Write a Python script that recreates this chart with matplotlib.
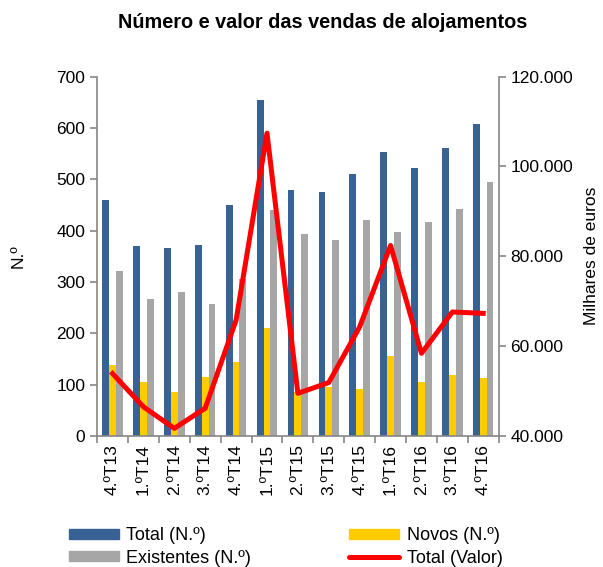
import numpy as np
import matplotlib
matplotlib.use('Agg')
import matplotlib.pyplot as plt
from matplotlib.patches import Patch
from matplotlib.lines import Line2D
from matplotlib.ticker import FuncFormatter

plt.rcParams['font.family'] = ['Liberation Sans', 'DejaVu Sans']

# === Data ===
quarters = ['4.ºT13', '1.ºT14', '2.ºT14', '3.ºT14', '4.ºT14', '1.ºT15', '2.ºT15',
            '3.ºT15', '4.ºT15', '1.ºT16', '2.ºT16', '3.ºT16', '4.ºT16']
total_n = [460, 370, 366, 372, 450, 654, 479, 476, 511, 553, 522, 561, 608]
novos_n = [138, 105, 85, 115, 144, 211, 86, 96, 92, 156, 105, 118, 113]
existentes_n = [321, 266, 280, 257, 306, 441, 393, 381, 420, 397, 417, 443, 494]
total_valor = [53900, 46500, 41700, 46200, 65800, 107400, 49500, 51900, 64300,
               82400, 58400, 67600, 67300]

blue = '#386293'
yellow = '#FFCC00'
grey = '#A6A6A6'
red = '#FF0000'
spine_col = '#868686'

fig = plt.figure(figsize=(6.03, 5.67), dpi=100)
ax = fig.add_axes([0.161, 0.231, 0.666, 0.634])
x = np.arange(len(quarters))
w = 0.22

ax.bar(x - w, total_n, w, color=blue, zorder=2)
ax.bar(x, novos_n, w, color=yellow, zorder=2)
ax.bar(x + w, existentes_n, w, color=grey, zorder=2)

ax.set_xlim(-0.5, len(quarters) - 0.5)
ax.set_ylim(0, 700)
ax.set_yticks(range(0, 701, 100))
ax.set_xticks(x)
ax.set_xticklabels(quarters, rotation=90, fontsize=12.5)
ax.set_xticks(np.arange(-0.5, len(quarters)), minor=True)
ax.tick_params(axis='x', which='major', length=0, pad=6)
ax.tick_params(axis='x', which='minor', length=5, color=spine_col, width=1.2)
ax.tick_params(axis='y', labelsize=12.5, length=5, color=spine_col, width=1.2)
ax.set_ylabel('N.º', fontsize=12.5, labelpad=22)
for s in ['top', 'right']:
    ax.spines[s].set_visible(False)
for s in ['left', 'bottom']:
    ax.spines[s].set_color(spine_col)
    ax.spines[s].set_linewidth(1.2)

ax2 = ax.twinx()
ax2.plot(x, total_valor, color=red, lw=3.6, solid_joinstyle='round', zorder=5)
ax2.set_ylim(40000, 120000)
ax2.set_yticks(range(40000, 120001, 20000))
ax2.yaxis.set_major_formatter(FuncFormatter(lambda v, p: f'{int(v):,}'.replace(',', '.')))
ax2.tick_params(axis='y', labelsize=12.5, length=5, color=spine_col, width=1.2)
ax2.set_ylabel('Milhares de euros', fontsize=12.5, labelpad=8)
for s in ['top', 'left', 'bottom']:
    ax2.spines[s].set_visible(False)
ax2.spines['right'].set_color(spine_col)
ax2.spines['right'].set_linewidth(1.2)

fig.suptitle('Número e valor das vendas de alojamentos', fontsize=14.3,
             fontweight='bold', x=0.535, y=0.977)

handles = [Patch(color=blue), Patch(color=grey), Patch(color=yellow),
           Line2D([], [], color=red, lw=3.6, solid_capstyle='round')]
labels = ['Total (N.º)', 'Existentes (N.º)', 'Novos (N.º)', 'Total (Valor)']
fig.legend(handles, labels, ncol=2, loc='lower left', bbox_to_anchor=(0.087, -0.028),
           frameon=False, fontsize=13, handlelength=2.8, handleheight=0.45,
           columnspacing=5.4, labelspacing=0.3, handletextpad=0.4)

fig.savefig('out.png', dpi=100)
